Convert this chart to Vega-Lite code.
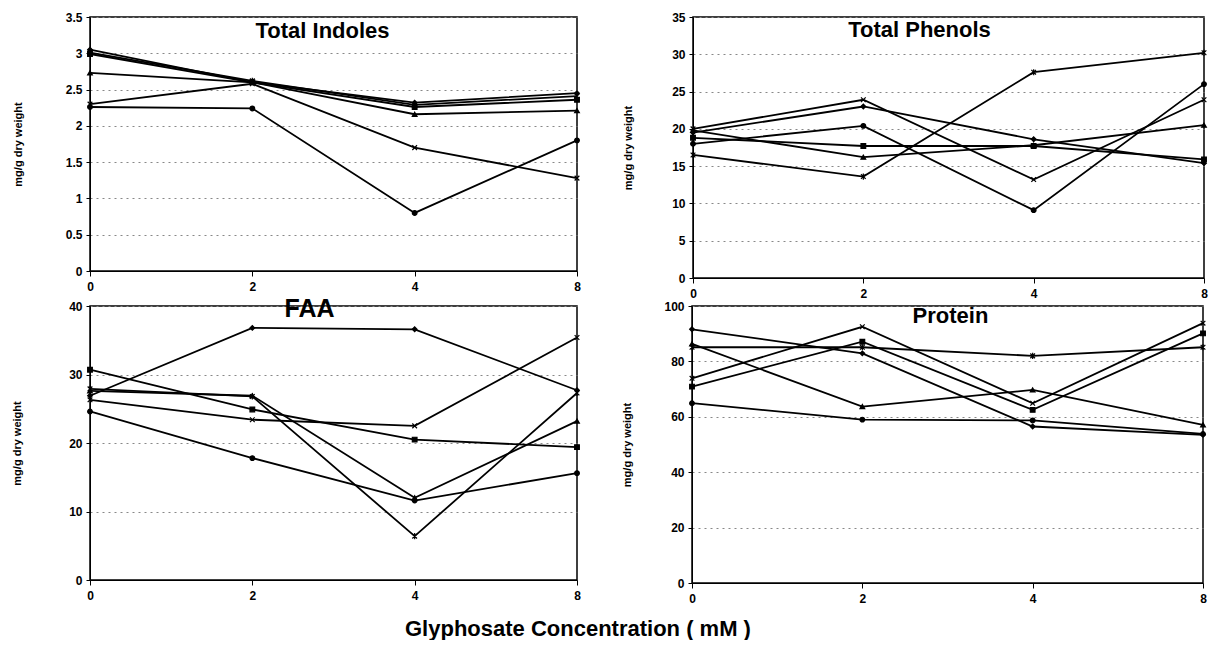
{
  "$schema": "https://vega.github.io/schema/vega-lite/v6.json",
  "background": "white",
  "padding": {"left": 10, "top": 10, "right": 8, "bottom": 0},
  "title": {"text": "Glyphosate Concentration ( mM )", "orient": "bottom", "anchor": "start", "dx": 315, "offset": 14, "fontSize": 22, "frame": "group"},
  "datasets": {
    "indoles": [
      {"c": 0, "s": "s1", "v": 3.05}, {"c": 2, "s": "s1", "v": 2.6}, {"c": 4, "s": "s1", "v": 2.32}, {"c": 8, "s": "s1", "v": 2.45},
      {"c": 0, "s": "s2", "v": 2.99}, {"c": 2, "s": "s2", "v": 2.6}, {"c": 4, "s": "s2", "v": 2.26}, {"c": 8, "s": "s2", "v": 2.36},
      {"c": 0, "s": "s3", "v": 2.73}, {"c": 2, "s": "s3", "v": 2.6}, {"c": 4, "s": "s3", "v": 2.16}, {"c": 8, "s": "s3", "v": 2.21},
      {"c": 0, "s": "s4", "v": 2.3}, {"c": 2, "s": "s4", "v": 2.58}, {"c": 4, "s": "s4", "v": 1.7}, {"c": 8, "s": "s4", "v": 1.28},
      {"c": 0, "s": "s5", "v": 3.01}, {"c": 2, "s": "s5", "v": 2.62}, {"c": 4, "s": "s5", "v": 2.29}, {"c": 8, "s": "s5", "v": 2.41},
      {"c": 0, "s": "s6", "v": 2.26}, {"c": 2, "s": "s6", "v": 2.24}, {"c": 4, "s": "s6", "v": 0.8}, {"c": 8, "s": "s6", "v": 1.8}
    ],
    "phenols": [
      {"c": 0, "s": "s1", "v": 19.5}, {"c": 2, "s": "s1", "v": 23.0}, {"c": 4, "s": "s1", "v": 18.6}, {"c": 8, "s": "s1", "v": 15.4},
      {"c": 0, "s": "s2", "v": 18.8}, {"c": 2, "s": "s2", "v": 17.7}, {"c": 4, "s": "s2", "v": 17.7}, {"c": 8, "s": "s2", "v": 15.9},
      {"c": 0, "s": "s3", "v": 19.8}, {"c": 2, "s": "s3", "v": 16.2}, {"c": 4, "s": "s3", "v": 17.8}, {"c": 8, "s": "s3", "v": 20.5},
      {"c": 0, "s": "s4", "v": 20.0}, {"c": 2, "s": "s4", "v": 23.9}, {"c": 4, "s": "s4", "v": 13.2}, {"c": 8, "s": "s4", "v": 23.9},
      {"c": 0, "s": "s5", "v": 16.5}, {"c": 2, "s": "s5", "v": 13.6}, {"c": 4, "s": "s5", "v": 27.6}, {"c": 8, "s": "s5", "v": 30.2},
      {"c": 0, "s": "s6", "v": 18.0}, {"c": 2, "s": "s6", "v": 20.4}, {"c": 4, "s": "s6", "v": 9.1}, {"c": 8, "s": "s6", "v": 26.0}
    ],
    "faa": [
      {"c": 0, "s": "s1", "v": 26.9}, {"c": 2, "s": "s1", "v": 36.8}, {"c": 4, "s": "s1", "v": 36.6}, {"c": 8, "s": "s1", "v": 27.7},
      {"c": 0, "s": "s2", "v": 30.7}, {"c": 2, "s": "s2", "v": 24.9}, {"c": 4, "s": "s2", "v": 20.5}, {"c": 8, "s": "s2", "v": 19.4},
      {"c": 0, "s": "s3", "v": 27.6}, {"c": 2, "s": "s3", "v": 26.9}, {"c": 4, "s": "s3", "v": 12.0}, {"c": 8, "s": "s3", "v": 23.2},
      {"c": 0, "s": "s4", "v": 26.3}, {"c": 2, "s": "s4", "v": 23.4}, {"c": 4, "s": "s4", "v": 22.5}, {"c": 8, "s": "s4", "v": 35.4},
      {"c": 0, "s": "s5", "v": 27.9}, {"c": 2, "s": "s5", "v": 26.8}, {"c": 4, "s": "s5", "v": 6.4}, {"c": 8, "s": "s5", "v": 27.3},
      {"c": 0, "s": "s6", "v": 24.6}, {"c": 2, "s": "s6", "v": 17.8}, {"c": 4, "s": "s6", "v": 11.6}, {"c": 8, "s": "s6", "v": 15.6}
    ],
    "protein": [
      {"c": 0, "s": "s1", "v": 91.6}, {"c": 2, "s": "s1", "v": 82.9}, {"c": 4, "s": "s1", "v": 56.5}, {"c": 8, "s": "s1", "v": 53.5},
      {"c": 0, "s": "s2", "v": 70.9}, {"c": 2, "s": "s2", "v": 87.1}, {"c": 4, "s": "s2", "v": 62.5}, {"c": 8, "s": "s2", "v": 90.1},
      {"c": 0, "s": "s3", "v": 86.3}, {"c": 2, "s": "s3", "v": 63.7}, {"c": 4, "s": "s3", "v": 69.7}, {"c": 8, "s": "s3", "v": 57.1},
      {"c": 0, "s": "s4", "v": 73.9}, {"c": 2, "s": "s4", "v": 92.5}, {"c": 4, "s": "s4", "v": 64.9}, {"c": 8, "s": "s4", "v": 93.8},
      {"c": 0, "s": "s5", "v": 85.1}, {"c": 2, "s": "s5", "v": 85.1}, {"c": 4, "s": "s5", "v": 82.0}, {"c": 8, "s": "s5", "v": 85.1},
      {"c": 0, "s": "s6", "v": 64.9}, {"c": 2, "s": "s6", "v": 59.0}, {"c": 4, "s": "s6", "v": 58.7}, {"c": 8, "s": "s6", "v": 53.8}
    ]
  },
  "vconcat": [
    {
      "hconcat": [
        {
          "width": 487, "height": 254,
          "data": {"name": "indoles"},
          "title": {"text": "Total Indoles", "offset": -32, "dx": -11},
          "encoding": {
            "x": {"field": "c", "type": "ordinal", "scale": {"type": "point", "padding": 0}, "axis": {"title": null}},
            "y": {"field": "v", "type": "quantitative", "scale": {"domain": [0, 3.5], "nice": false}, "axis": {"values": [0, 0.5, 1, 1.5, 2, 2.5, 3, 3.5], "format": "~g", "title": "mg/g dry weight", "titlePadding": 42}}
          },
          "layer": [
            {"mark": {"type": "line", "color": "black", "strokeWidth": 1.8}, "encoding": {"detail": {"field": "s"}}},
            {"mark": {"type": "point", "filled": true, "color": "black", "stroke": "black", "strokeWidth": 1.2, "size": 22, "opacity": 1}, "encoding": {"shape": {"field": "s", "legend": null, "scale": {"domain": ["s1", "s2", "s3", "s4", "s5", "s6"], "range": ["diamond", "square", "triangle-up", "M-1,-1L1,1M-1,1L1,-1", "M-1,-1L1,1M-1,1L1,-1M0,-1.3L0,1.3", "circle"]}}}}
          ]
        },
        {
          "width": 511, "height": 261,
          "data": {"name": "phenols"},
          "title": {"text": "Total Phenols", "offset": -31, "dx": -29},
          "encoding": {
            "x": {"field": "c", "type": "ordinal", "scale": {"type": "point", "padding": 0}, "axis": {"title": null}},
            "y": {"field": "v", "type": "quantitative", "scale": {"domain": [0, 35], "nice": false}, "axis": {"values": [0, 5, 10, 15, 20, 25, 30, 35], "title": "mg/g dry weight", "titlePadding": 38}}
          },
          "layer": [
            {"mark": {"type": "line", "color": "black", "strokeWidth": 1.8}, "encoding": {"detail": {"field": "s"}}},
            {"mark": {"type": "point", "filled": true, "color": "black", "stroke": "black", "strokeWidth": 1.2, "size": 22, "opacity": 1}, "encoding": {"shape": {"field": "s", "legend": null, "scale": {"domain": ["s1", "s2", "s3", "s4", "s5", "s6"], "range": ["diamond", "square", "triangle-up", "M-1,-1L1,1M-1,1L1,-1", "M-1,-1L1,1M-1,1L1,-1M0,-1.3L0,1.3", "circle"]}}}}
          ]
        }
      ],
      "spacing": 38
    },
    {
      "hconcat": [
        {
          "width": 487, "height": 274,
          "data": {"name": "faa"},
          "title": {"text": "FAA", "offset": -22, "dx": -24, "fontSize": 25},
          "encoding": {
            "x": {"field": "c", "type": "ordinal", "scale": {"type": "point", "padding": 0}, "axis": {"title": null}},
            "y": {"field": "v", "type": "quantitative", "scale": {"domain": [0, 40], "nice": false}, "axis": {"values": [0, 10, 20, 30, 40], "title": "mg/g dry weight", "titlePadding": 46}}
          },
          "layer": [
            {"mark": {"type": "line", "color": "black", "strokeWidth": 1.8}, "encoding": {"detail": {"field": "s"}}},
            {"mark": {"type": "point", "filled": true, "color": "black", "stroke": "black", "strokeWidth": 1.2, "size": 22, "opacity": 1}, "encoding": {"shape": {"field": "s", "legend": null, "scale": {"domain": ["s1", "s2", "s3", "s4", "s5", "s6"], "range": ["diamond", "square", "triangle-up", "M-1,-1L1,1M-1,1L1,-1", "M-1,-1L1,1M-1,1L1,-1M0,-1.3L0,1.3", "circle"]}}}}
          ]
        },
        {
          "width": 511, "height": 277,
          "data": {"name": "protein"},
          "title": {"text": "Protein", "offset": -28, "dx": 3},
          "encoding": {
            "x": {"field": "c", "type": "ordinal", "scale": {"type": "point", "padding": 0}, "axis": {"title": null}},
            "y": {"field": "v", "type": "quantitative", "scale": {"domain": [0, 100], "nice": false}, "axis": {"values": [0, 20, 40, 60, 80, 100], "title": "mg/g dry weight", "titlePadding": 31}}
          },
          "layer": [
            {"mark": {"type": "line", "color": "black", "strokeWidth": 1.8}, "encoding": {"detail": {"field": "s"}}},
            {"mark": {"type": "point", "filled": true, "color": "black", "stroke": "black", "strokeWidth": 1.2, "size": 22, "opacity": 1}, "encoding": {"shape": {"field": "s", "legend": null, "scale": {"domain": ["s1", "s2", "s3", "s4", "s5", "s6"], "range": ["diamond", "square", "triangle-up", "M-1,-1L1,1M-1,1L1,-1", "M-1,-1L1,1M-1,1L1,-1M0,-1.3L0,1.3", "circle"]}}}}
          ]
        }
      ],
      "spacing": 38
    }
  ],
  "spacing": -4,
  "config": {
    "font": "Liberation Sans",
    "view": {"stroke": "black", "strokeWidth": 1.5},
    "axis": {"labelFont": "Liberation Sans", "labelFontWeight": "bold", "labelFontSize": 12, "labelColor": "black", "domainColor": "black", "tickColor": "black", "titleFont": "Liberation Sans", "titleFontWeight": "bold", "titleColor": "black"},
    "axisX": {"grid": false, "labelAngle": 0, "tickSize": 5, "labelPadding": 5},
    "axisY": {"grid": true, "gridDash": [2, 4], "gridColor": "#888888", "gridWidth": 1, "tickSize": 4, "labelPadding": 4, "titleFontSize": 11},
    "title": {"font": "Liberation Sans", "fontWeight": "bold", "fontSize": 22, "color": "black", "frame": "group"}
  }
}
